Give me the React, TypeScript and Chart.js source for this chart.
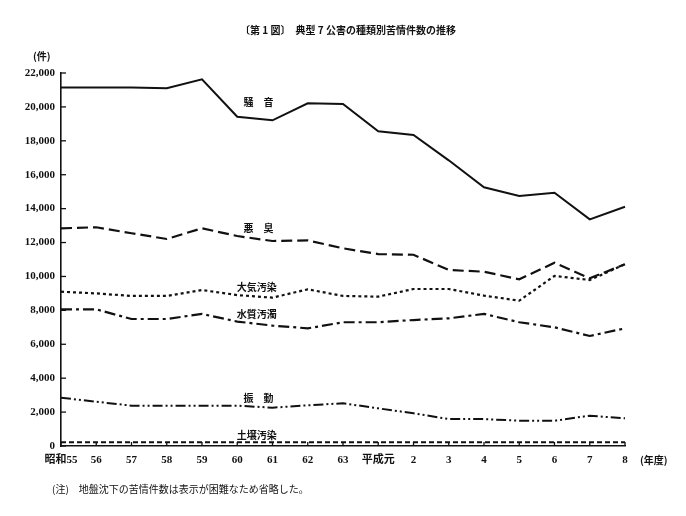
import React, { useEffect, useRef } from "react";
import { Chart, registerables } from "chart.js";

Chart.register(...registerables);

const categories = ["昭和55", "56", "57", "58", "59", "60", "61", "62", "63", "平成元", "2", "3", "4", "5", "6", "7", "8"];
const noise = [21150, 21150, 21150, 21100, 21630, 19420, 19210, 20210, 20170, 18560, 18340, 16850, 15260, 14745, 14940, 13370, 14115];
const odor = [12840, 12900, 12550, 12210, 12840, 12385, 12090, 12130, 11660, 11320, 11280, 10380, 10280, 9830, 10810, 9890, 10720];
const air = [9100, 9000, 8850, 8850, 9200, 8900, 8750, 9240, 8850, 8810, 9260, 9260, 8870, 8570, 10030, 9790, 10720];
const water = [8060, 8060, 7490, 7490, 7790, 7340, 7100, 6940, 7300, 7300, 7430, 7530, 7790, 7300, 7000, 6490, 6940];
const vibration = [2850, 2610, 2380, 2380, 2380, 2380, 2260, 2400, 2520, 2220, 1930, 1590, 1590, 1490, 1490, 1790, 1630];
const soil = [220, 220, 220, 220, 220, 220, 220, 220, 220, 220, 220, 220, 220, 220, 220, 220, 220];

const seriesNames = ["騒　音", "悪　臭", "大気汚染", "水質汚濁", "振　動", "土壌汚染"];
const labelAnchorIndex = [5.6, 5.6, 5.55, 5.55, 5.6, 5.55];
const labelAnchorValue = [20290, 12860, 9380, 7790, 2830, 650];

const titleText = "〔第 1 図〕　典型 7 公害の種類別苦情件数の推移";
const unitText = "(件)";
const yearUnitText = "(年度)";
const noteText = "(注)　地盤沈下の苦情件数は表示が困難なため省略した。";

const INK = "#111111";
const JP = "'Noto Sans CJK JP', sans-serif";
const NUM = "'Liberation Serif', 'Noto Sans CJK JP', serif";

const decorPlugin = {
  id: "decor",
  beforeDraw(chart: any) {
    const ctx = chart.ctx;
    ctx.save();
    ctx.fillStyle = "#ffffff";
    ctx.fillRect(0, 0, chart.width, chart.height);
    ctx.restore();
  },
  afterDraw(chart: any) {
    const ctx = chart.ctx;
    const xs = chart.scales.x;
    const ys = chart.scales.y;
    const area = chart.chartArea;
    ctx.save();
    ctx.fillStyle = INK;
    ctx.strokeStyle = INK;
    // inward ticks
    ctx.lineWidth = 1.3;
    ys.ticks.forEach((t: any) => {
      const py = ys.getPixelForValue(t.value);
      ctx.beginPath();
      ctx.moveTo(area.left, py);
      ctx.lineTo(area.left + 5, py);
      ctx.stroke();
    });
    categories.forEach((_c, i) => {
      const px = xs.getPixelForValue(i);
      ctx.beginPath();
      ctx.moveTo(px, area.bottom);
      ctx.lineTo(px, area.bottom - 4);
      ctx.stroke();
    });
    // title
    ctx.font = `bold 10px ${JP}`;
    ctx.textAlign = "center";
    ctx.textBaseline = "middle";
    ctx.fillText(titleText, 348, 30);
    // unit
    ctx.font = `bold 10px ${JP}`;
    ctx.textAlign = "left";
    ctx.fillText(unitText, 33, 56);
    // year unit
    ctx.fillText(yearUnitText, 640, 460);
    // note
    ctx.font = `10px ${JP}`;
    ctx.fillText(noteText, 52, 489);
    // series labels
    ctx.font = `bold 10px ${JP}`;
    ctx.textAlign = "center";
    seriesNames.forEach((name, i) => {
      const px = xs.getPixelForValue(labelAnchorIndex[i]);
      const py = ys.getPixelForValue(labelAnchorValue[i]);
      ctx.fillText(name, px, py);
    });
    ctx.restore();
  },
};

export default function App() {
  const ref = useRef<HTMLCanvasElement | null>(null);
  useEffect(() => {
    if (!ref.current) return;
    const mk = (label: string, data: number[], dash: number[], width: number) => ({
      label,
      data,
      borderColor: INK,
      backgroundColor: INK,
      borderWidth: width,
      borderDash: dash,
      pointRadius: 0,
      tension: 0,
      fill: false,
    });
    const chart = new Chart(ref.current, {
      type: "line",
      data: {
        labels: categories,
        datasets: [
          mk("騒音", noise, [], 2),
          mk("悪臭", odor, [11, 5], 2.2),
          mk("大気汚染", air, [3, 3], 2.2),
          mk("水質汚濁", water, [11, 4, 3, 4], 2.2),
          mk("振動", vibration, [10, 3, 2, 3, 2, 3], 2),
          mk("土壌汚染", soil, [5, 3], 2),
        ],
      },
      options: {
        responsive: false,
        animation: false,
        devicePixelRatio: 1,
        layout: { padding: { left: 8, top: 73, right: 61, bottom: 45 } },
        plugins: {
          legend: { display: false },
          title: { display: false },
          tooltip: { enabled: false },
        },
        scales: {
          x: {
            type: "category",
            offset: false,
            grid: { display: false, drawTicks: false },
            border: { display: true, color: INK, width: 1.6 },
            ticks: {
              autoSkip: false,
              maxRotation: 0,
              padding: 8,
              color: INK,
              font: { family: NUM, size: 11, weight: "bold" },
            },
            afterFit: (s: any) => {
              s.height = 25;
            },
          },
          y: {
            min: 0,
            max: 22000,
            grid: { display: false, drawTicks: false },
            border: { display: true, color: INK, width: 1.6 },
            ticks: {
              stepSize: 2000,
              padding: 6,
              color: INK,
              font: { family: NUM, size: 11, weight: "bold" },
              callback: (v: any) => Number(v).toLocaleString("en-US"),
            },
            afterFit: (s: any) => {
              s.width = 53;
            },
          },
        },
      },
      plugins: [decorPlugin],
    } as any);
    return () => chart.destroy();
  }, []);
  return (
    <div style={{ position: "absolute", left: 0, top: 0, width: 686, height: 516, background: "#fff" }}>
      <canvas ref={ref} width={686} height={516} style={{ width: 686, height: 516, display: "block" }} />
    </div>
  );
}
